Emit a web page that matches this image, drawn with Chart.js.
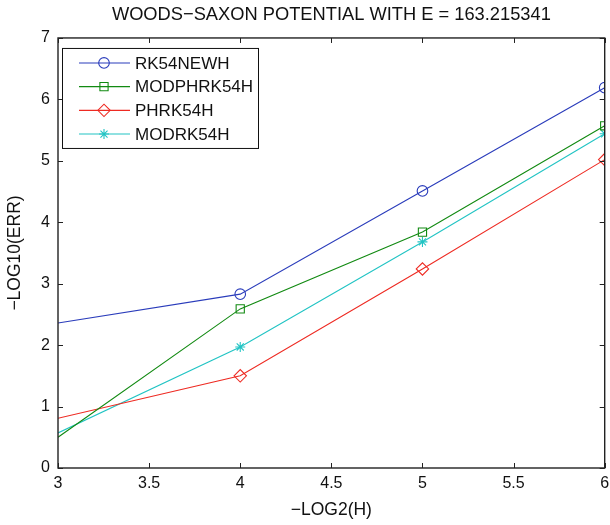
<!DOCTYPE html>
<html><head><meta charset="utf-8">
<script src="https://cdn.jsdelivr.net/npm/chart.js@4.4.1/dist/chart.umd.min.js"></script>
<style>html,body{margin:0;padding:0;background:#fff;overflow:hidden}#wrap{width:610px;height:525px;overflow:hidden}canvas{display:block}</style>
</head><body><div id="wrap"><canvas id="c" width="612" height="525"></canvas></div>
<script>
const xValues = [3, 4, 5, 6];
const rk54newh = [2.36, 2.83, 4.51, 6.19];
const modphrk54h = [0.50, 2.59, 3.84, 5.57];
const phrk54h = [0.81, 1.50, 3.24, 5.02];
const modrk54h = [0.57, 1.97, 3.68, 5.44];
const seriesNames = ['RK54NEWH', 'MODPHRK54H', 'PHRK54H', 'MODRK54H'];
const xTicks = [3, 3.5, 4, 4.5, 5, 5.5, 6];
const yTicks = [0, 1, 2, 3, 4, 5, 6, 7];
const titleText = 'WOODS\u2212SAXON POTENTIAL WITH E = 163.215341';
const xTitle = '\u2212LOG2(H)';
const yTitle = '\u2212LOG10(ERR)';

const FONT = "'Liberation Sans', Arial, Helvetica, sans-serif";
const styles = [
  {color: '#2a3cbb', point: 'circle', r: 5.3},
  {color: '#128a12', point: 'rect', r: 5.8},
  {color: '#ee2a22', point: 'rectRot', r: 6.2},
  {color: '#22c4c4', point: 'star', r: 5}
];
const allSeries = [rk54newh, modphrk54h, phrk54h, modrk54h];

const datasets = allSeries.map((arr, k) => ({
  label: seriesNames[k],
  data: xValues.map((x, i) => ({x: x, y: arr[i]})),
  borderColor: styles[k].color,
  backgroundColor: 'rgba(0,0,0,0)',
  borderWidth: 1.1,
  pointStyle: styles[k].point,
  pointRadius: ctx => ctx.dataIndex === 0 ? 0 : styles[k].r,
  pointHoverRadius: ctx => ctx.dataIndex === 0 ? 0 : styles[k].r,
  pointBorderColor: styles[k].color,
  pointBackgroundColor: 'rgba(0,0,0,0)',
  pointBorderWidth: 1.1,
  tension: 0,
  fill: false,
  clip: 0
}));

const framePlugin = {
  id: 'frame',
  afterDatasetsDraw(chart) {
    const {ctx, chartArea: a, scales: {x, y}} = chart;
    ctx.save();
    ctx.strokeStyle = '#222';
    ctx.lineWidth = 1.4;
    ctx.strokeRect(a.left, a.top, a.right - a.left, a.bottom - a.top);
    ctx.lineWidth = 1;
    const tl = 5;
    ctx.beginPath();
    xTicks.forEach(v => {
      const px = Math.round(x.getPixelForValue(v)) + 0.5;
      ctx.moveTo(px, a.bottom); ctx.lineTo(px, a.bottom - tl);
      ctx.moveTo(px, a.top); ctx.lineTo(px, a.top + tl);
    });
    yTicks.forEach(v => {
      const py = Math.round(y.getPixelForValue(v)) + 0.5;
      ctx.moveTo(a.left, py); ctx.lineTo(a.left + tl, py);
      ctx.moveTo(a.right, py); ctx.lineTo(a.right - tl, py);
    });
    ctx.stroke();

    // legend
    const lx = a.left + 4, ly = a.top + 10, lw = 196, lh = 100;
    ctx.fillStyle = '#fff';
    ctx.fillRect(lx, ly, lw, lh);
    ctx.strokeStyle = '#111';
    ctx.lineWidth = 1;
    ctx.strokeRect(lx + 0.5, ly + 0.5, lw, lh);
    ctx.font = '17px ' + FONT;
    ctx.textBaseline = 'middle';
    ctx.textAlign = 'left';
    chart.data.datasets.forEach((ds, k) => {
      const yy = ly + 15 + k * 23.7;
      ctx.strokeStyle = ds.borderColor;
      ctx.lineWidth = 1.1;
      ctx.beginPath();
      ctx.moveTo(lx + 17, yy); ctx.lineTo(lx + 68, yy);
      ctx.stroke();
      ctx.fillStyle = 'rgba(0,0,0,0)';
      Chart.helpers.drawPoint(ctx, {pointStyle: ds.pointStyle, radius: styles[k].r, rotation: 0, borderWidth: 1.1}, lx + 42, yy);
      ctx.fillStyle = '#111';
      ctx.fillText(ds.label, lx + 73, yy + 1);
    });
    ctx.restore();
  }
};

new Chart(document.getElementById('c'), {
  type: 'line',
  data: {datasets},
  plugins: [framePlugin],
  options: {
    responsive: false,
    animation: false,
    devicePixelRatio: 1,
    layout: {padding: {left: 0, right: 0, top: 0, bottom: 0}},
    plugins: {
      legend: {display: false},
      tooltip: {enabled: false},
      title: {
        display: true,
        text: titleText,
        fullSize: false,
        color: '#111',
        font: {family: FONT, size: 18.3, weight: 'normal', lineHeight: 1.2},
        padding: {top: 4, bottom: 12}
      }
    },
    scales: {
      x: {
        type: 'linear',
        min: 3, max: 6,
        afterBuildTicks: s => { s.ticks = xTicks.map(v => ({value: v})); },
        afterFit: s => { s.height = 57; s.paddingRight = 0; s.paddingLeft = 0; },
        grid: {display: false, drawTicks: false},
        border: {display: false},
        ticks: {color: '#111', font: {family: FONT, size: 16}, padding: 6, maxRotation: 0, autoSkip: false, callback: v => String(v)},
        title: {display: true, text: xTitle, color: '#111', font: {family: FONT, size: 17.5}, padding: {top: 0, bottom: 4}}
      },
      y: {
        type: 'linear',
        min: 0, max: 7,
        afterBuildTicks: s => { s.ticks = yTicks.map(v => ({value: v})); },
        afterFit: s => { s.width = 58; },
        grid: {display: false, drawTicks: false},
        border: {display: false},
        ticks: {color: '#111', font: {family: FONT, size: 16}, padding: 8, autoSkip: false, callback: v => String(v)},
        title: {display: true, text: yTitle, color: '#111', font: {family: FONT, size: 17.5}, padding: {top: 5, bottom: 0}}
      }
    }
  }
});
</script></body></html>
